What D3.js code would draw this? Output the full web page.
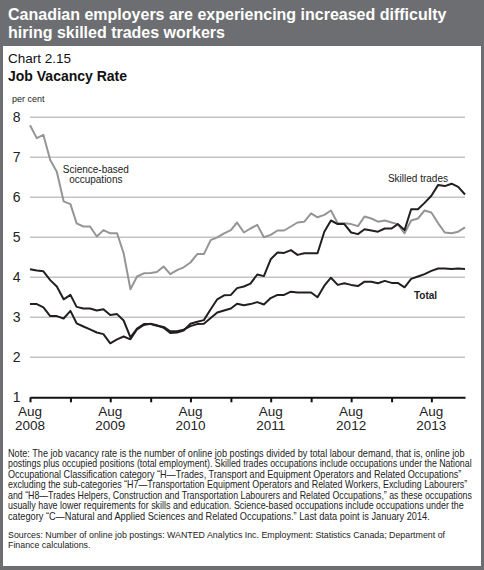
<!DOCTYPE html>
<html><head><meta charset="utf-8">
<script src="https://cdn.jsdelivr.net/npm/d3@7"></script>
<style>
body{margin:0;background:#fff}
svg{display:block}
text{font-family:"Liberation Sans",Arial,Helvetica,sans-serif}
</style>
</head><body><svg id="c" width="484" height="570"></svg>
<script>
// ---- data ----
const startMonth = new Date(2008, 7, 1);   // Aug 2008
const endMonth = new Date(2014, 0, 1);     // Jan 2014
const months = d3.timeMonth.range(startMonth, d3.timeMonth.offset(endMonth, 1));

const science = [7.80,7.48,7.56,6.93,6.64,5.90,5.83,5.35,5.27,5.27,
  5.02,5.18,5.10,5.10,4.60,3.70,4.02,4.10,4.11,4.13,
  4.27,4.08,4.18,4.25,4.37,4.58,4.58,4.93,5.00,5.10,
  5.18,5.37,5.12,5.22,5.31,5.00,5.06,5.17,5.17,5.27,
  5.37,5.39,5.60,5.50,5.56,5.67,5.35,5.35,5.33,5.28,
  5.52,5.47,5.39,5.42,5.37,5.33,5.10,5.42,5.47,5.67,
  5.62,5.35,5.12,5.10,5.14,5.25];
const skilled = [3.33,3.33,3.25,3.03,3.03,2.97,3.16,2.85,2.77,2.70,
  2.62,2.58,2.35,2.45,2.52,2.45,2.70,2.81,2.84,2.80,
  2.74,2.61,2.62,2.67,2.84,2.89,2.93,3.20,3.45,3.55,
  3.56,3.73,3.77,3.84,4.07,4.03,4.45,4.62,4.61,4.68,
  4.56,4.60,4.60,4.60,5.14,5.42,5.33,5.33,5.12,5.08,
  5.20,5.17,5.14,5.22,5.22,5.33,5.18,5.70,5.70,5.86,
  6.04,6.31,6.28,6.34,6.26,6.07];
const total = [4.20,4.17,4.15,3.93,3.77,3.45,3.56,3.26,3.22,3.22,
  3.17,3.20,3.06,3.08,2.92,2.50,2.72,2.83,2.83,2.79,
  2.76,2.65,2.65,2.69,2.78,2.83,2.84,2.98,3.12,3.17,
  3.22,3.34,3.30,3.33,3.38,3.32,3.48,3.56,3.56,3.64,
  3.62,3.62,3.62,3.50,3.79,3.99,3.81,3.85,3.81,3.78,
  3.89,3.89,3.85,3.91,3.86,3.86,3.75,3.96,4.02,4.08,
  4.16,4.22,4.22,4.21,4.22,4.21];

const yTicks = [1,2,3,4,5,6,7,8];
const xTickMonths = d3.timeMonth.range(startMonth, d3.timeMonth.offset(endMonth, 1), 6); // Aug & Feb
const titleLines = ["Canadian employers are experiencing increased difficulty", "hiring skilled trades workers"];
const noteLines = [
  "Note: The job vacancy rate is the number of online job postings divided by total labour demand, that is, online job",
  "postings plus occupied positions (total employment). Skilled trades occupations include occupations under the National",
  "Occupational Classification category \u201CH\u2014Trades, Transport and Equipment Operators and Related Occupations\u201D",
  "excluding the sub-categories \u201CH7\u2014Transportation Equipment Operators and Related Workers, Excluding Labourers\u201D",
  "and \u201CH8\u2014Trades Helpers, Construction and Transportation Labourers and Related Occupations,\u201D as these occupations",
  "usually have lower requirements for skills and education. Science-based occupations include occupations under the",
  "category \u201CC\u2014Natural and Applied Sciences and Related Occupations.\u201D Last data point is January 2014."
];
const noteWidths = [457,464,454,460,465,456,422];
const sourceLines = [
  "Sources: Number of online job postings: WANTED Analytics Inc. Employment: Statistics Canada; Department of",
  "Finance calculations."
];
const sourceWidth = 438;

// ---- drawing ----
const svg = d3.select("#c");
const W = 484, H = 570;

svg.append("rect").attr("width", W).attr("height", H).attr("fill", "#6d6e71");
svg.append("rect").attr("x", 3).attr("y", 46).attr("width", 478).attr("height", 520).attr("fill", "#fff");

svg.selectAll("text.title").data(titleLines).join("text")
  .attr("class", "title")
  .attr("x", 8).attr("y", (d, i) => 20 + i * 18)
  .attr("fill", "#fff").attr("font-size", 16).attr("font-weight", "bold")
  .text(d => d);

svg.append("text").attr("x", 8).attr("y", 63).attr("font-size", 13.5).attr("fill", "#111").text("Chart 2.15");
svg.append("text").attr("x", 8).attr("y", 81).attr("font-size", 14).attr("font-weight", "bold").attr("fill", "#111").text("Job Vacancy Rate");
svg.append("text").attr("x", 12).attr("y", 102).attr("font-size", 9).attr("fill", "#222").text("per cent");

const x = d3.scaleTime().domain([startMonth, endMonth]).range([30, 465]);
const y = d3.scaleLinear().domain([1, 8]).range([397.3, 117.3]);

// gridlines
svg.append("g").selectAll("line").data(yTicks.filter(v => v > 1)).join("line")
  .attr("x1", 30).attr("x2", 465)
  .attr("y1", d => y(d)).attr("y2", d => y(d))
  .attr("stroke", "#c3c3c3").attr("stroke-width", 1.5);

// y axis labels
const yAxis = svg.append("g").attr("transform", "translate(20.5,0)")
  .call(d3.axisLeft(y).tickValues(yTicks).tickSize(0).tickPadding(0).tickFormat(d3.format("d")));
yAxis.select(".domain").remove();
yAxis.selectAll("text").attr("font-size", 14).attr("fill", "#222")
  .attr("font-family", '"Liberation Sans",Arial,sans-serif');

// lines
const line = d3.line().x((d, i) => x(months[i])).y(d => y(d));
svg.append("path").datum(science).attr("d", line)
  .attr("fill", "none").attr("stroke", "#959595").attr("stroke-width", 2).attr("stroke-linejoin", "round");
svg.append("path").datum(total).attr("d", line)
  .attr("fill", "none").attr("stroke", "#231f20").attr("stroke-width", 2).attr("stroke-linejoin", "round");
svg.append("path").datum(skilled).attr("d", line)
  .attr("fill", "none").attr("stroke", "#231f20").attr("stroke-width", 2).attr("stroke-linejoin", "round");

// x axis
const xAxis = svg.append("g").attr("transform", `translate(0,${y(1)})`)
  .call(d3.axisBottom(x).tickValues(xTickMonths).tickSizeInner(5).tickSizeOuter(0).tickFormat(() => ""));
xAxis.select(".domain").attr("stroke", "#111").attr("stroke-width", 2);
xAxis.selectAll(".tick line").attr("stroke", "#111").attr("stroke-width", 2);
xAxis.selectAll(".tick text").remove();
const augTicks = xTickMonths.filter(d => d.getMonth() === 7);
const xl = svg.append("g").selectAll("text").data(augTicks).join("text")
  .attr("text-anchor", "middle").attr("font-size", 13.5).attr("fill", "#222");
xl.append("tspan").attr("x", d => x(d)).attr("y", 416).text(d => d3.timeFormat("%b")(d));
xl.append("tspan").attr("x", d => x(d)).attr("y", 430).text(d => d3.timeFormat("%Y")(d));

// annotations
const ann = svg.append("g").attr("font-size", 10).attr("fill", "#222").attr("text-anchor", "middle");
ann.append("text").attr("x", x(months[10]) - 1).attr("y", y(6.62)).text("Science-based");
ann.append("text").attr("x", x(months[10]) - 1).attr("y", y(6.35)).text("occupations");
ann.append("text").attr("x", x(months[58])).attr("y", y(6.39)).text("Skilled trades");
ann.append("text").attr("x", x(months[59]) + 1).attr("y", y(3.46)).attr("font-weight", "bold").text("Total");

// notes: condensed by a horizontal scale so lines span the width seen in the reference
function condensedLines(lines, scaleFor, y0, step) {
  const g = svg.append("g");
  const sel = g.selectAll("text").data(lines).join("text")
    .attr("x", 0).attr("y", 0)
    .attr("font-size", 10).attr("fill", "#222")
    .text(d => d);
  const naturals = sel.nodes().map(n => n.getComputedTextLength());
  sel.attr("transform", (d, i) => `translate(8,${y0 + i * step}) scale(${scaleFor(i, naturals)},1)`);
}
condensedLines(noteLines, (i, nat) => noteWidths[i] / nat[i], 456.7, 10.55);
condensedLines(sourceLines, (i, nat) => sourceWidth / nat[0], 537.7, 10.6);
</script></body></html>
